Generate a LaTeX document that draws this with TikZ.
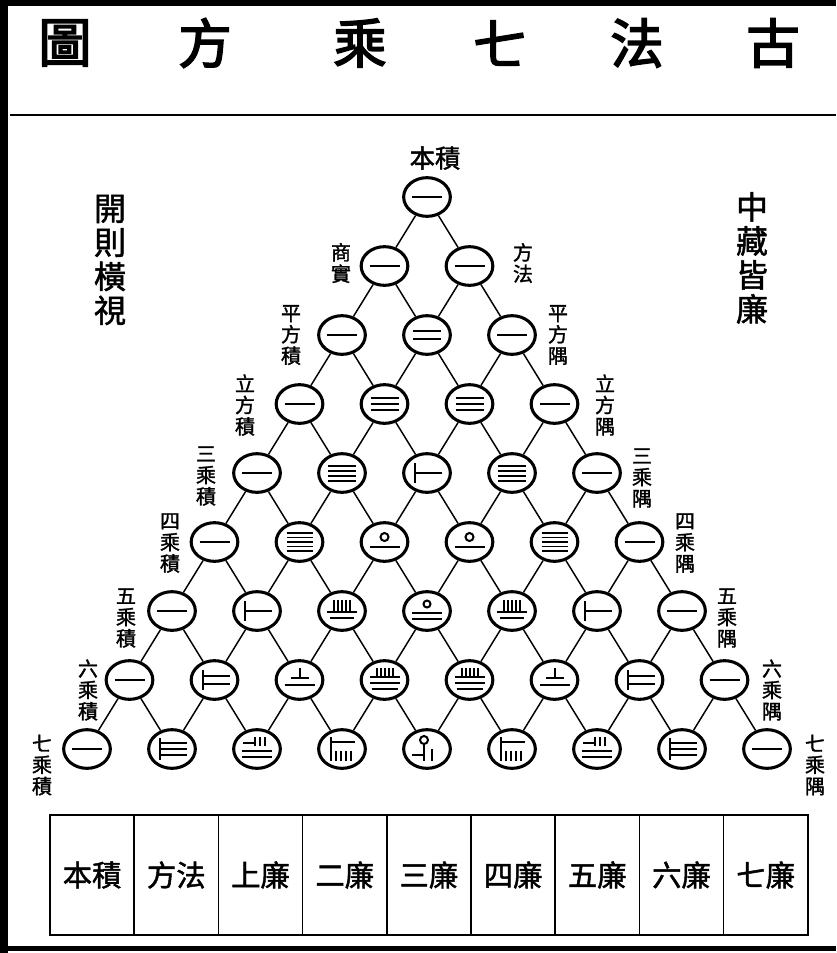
\documentclass[tikz,border=0pt]{standalone}
\usepackage{fontspec}
\newfontfamily\cjk{Noto Sans CJK TC}[FakeBold=1.5]
\newfontfamily\cjkb{Noto Sans CJK TC}[FakeBold=3]
\usetikzlibrary{shapes.geometric}
\tikzset{
  cell/.style={ellipse, draw, line width=2.3pt, minimum width=35pt, minimum height=29pt, inner sep=0pt},
  conn/.style={line width=1.1pt},
  rod/.style={line width=1.5pt},
  lab/.style={font=\cjk\fontsize{15}{16}\selectfont, align=center, inner sep=0pt},
  side/.style={font=\cjk\fontsize{24}{25.5}\selectfont, align=center, inner sep=0pt},
  ttl/.style={font=\cjkb\fontsize{40}{40}\selectfont, inner sep=0pt},
  tab/.style={font=\cjk\fontsize{22}{22}\selectfont, inner sep=0pt}
}
\expandafter\def\csname rodg-1\endcsname{\draw[rod] (-15,0)--(15,0);}
\expandafter\def\csname rodg-2\endcsname{\draw[rod] (-14,-4)--(14,-4) (-14,4)--(14,4);}
\expandafter\def\csname rodg-3\endcsname{\draw[rod] (-14,-6)--(14,-6) (-14,0)--(14,0) (-14,6)--(14,6);}
\expandafter\def\csname rodg-4\endcsname{\draw[rod] (-14,-7.5)--(14,-7.5) (-14,-2.5)--(14,-2.5) (-14,2.5)--(14,2.5) (-14,7.5)--(14,7.5);}
\expandafter\def\csname rodg-5\endcsname{\draw[rod,line width=1.2pt] (-13,-9)--(13,-9) (-13,-4.5)--(13,-4.5) (-13,0)--(13,0) (-13,4.5)--(13,4.5) (-13,9)--(13,9);}
\expandafter\def\csname rodg-6\endcsname{\draw[rod] (-12,-10)--(-12,10) (-12,0)--(15,0);}
\expandafter\def\csname rodg-7\endcsname{\draw[rod] (-12,-10)--(-12,10) (-12,-4)--(15,-4) (-12,4)--(15,4);}
\expandafter\def\csname rodg-8\endcsname{\draw[rod] (-12,-11)--(-12,11) (-12,-6)--(15,-6) (-12,0)--(15,0) (-12,6)--(15,6);}
\expandafter\def\csname rodg-10\endcsname{\draw[rod] (0,-5) circle[radius=4]; \draw[rod] (-15,5)--(15,5);}
\expandafter\def\csname rodg-15\endcsname{\draw[rod] (-8,-11)--(-8,0) (-4,-11)--(-4,0) (0,-11)--(0,0) (4,-11)--(4,0) (8,-11)--(8,0) (-15,1)--(15,1) (-12,7)--(12,7);}
\expandafter\def\csname rodg-20\endcsname{\draw[rod] (0,-7) circle[radius=3.5]; \draw[rod] (-15,2)--(15,2) (-15,8)--(15,8);}
\expandafter\def\csname rodg-21\endcsname{\draw[rod] (0,-12)--(0,-2) (-9,-2)--(9,-2) (-15,5)--(15,5);}
\expandafter\def\csname rodg-35\endcsname{\draw[rod] (-8,-12)--(-8,-4) (-4,-12)--(-4,-4) (0,-12)--(0,-4) (4,-12)--(4,-4) (8,-12)--(8,-4) (-15,-3)--(15,-3) (-15,3)--(15,3) (-13,9)--(13,9);}
\expandafter\def\csname rodg-28\endcsname{\draw[rod] (-14,-6)--(-2,-6) (-2,-12)--(-2,-3) (3,-12)--(3,-3) (8,-12)--(8,-3) (-15,2)--(15,2) (-15,8)--(15,8);}
\expandafter\def\csname rodg-56\endcsname{\draw[rod] (-11,-12)--(-11,12) (-11,-7)--(13,-7) (-6,2)--(-6,12) (-1,2)--(-1,12) (4,2)--(4,12) (9,2)--(9,12);}
\expandafter\def\csname rodg-70\endcsname{\draw[rod] (-3,-9) circle[radius=4]; \draw[rod] (-3,-5)--(-3,12) (-15,6)--(-3,6) (5,0)--(5,12);}
\newcommand\rodat[2]{\begin{scope}[shift={(#1)}]\csname rodg-#2\endcsname\end{scope}}
\begin{document}
\begin{tikzpicture}[x=0.75pt,y=-0.75pt]
\useasboundingbox (0,0) rectangle (836,953);
\fill[white] (0,0) rectangle (836,953);
% frame
\fill[black] (0,0) rectangle (836,6);
\fill[black] (0,0) rectangle (8,953);
\fill[black] (0,946) rectangle (836,951);
\draw[line width=1.6pt] (10,115) -- (836,115);
% title
\node[ttl] (t1) at (65,43) {圖};
\node[ttl] (t2) at (205,43) {方};
\node[ttl] (t3) at (360,43) {乘};
\node[ttl] (t4) at (500,43) {七};
\node[ttl] (t5) at (637,43) {法};
\node[ttl] (t6) at (773,43) {古};
% side texts
\node[side] (sl) at (110,260) {開\\則\\橫\\視};
\node[side] (sr) at (752,258) {中\\藏\\皆\\廉};
% cells
\foreach \r in {0,...,8}{
  \foreach \k in {0,...,\r}{
    \node[cell] (n-\r-\k) at ({427+(\k-\r/2)*85},{197+\r*69}) {};
  }
}
% connectors
\foreach \r in {0,...,7}{
  \foreach \k in {0,...,\r}{
    \pgfmathtruncatemacro\rr{\r+1}
    \pgfmathtruncatemacro\kk{\k+1}
    \draw[conn] (n-\r-\k) -- (n-\rr-\k);
    \draw[conn] (n-\r-\k) -- (n-\rr-\kk);
  }
}
% numerals
\foreach \r/\vals in {0/{1},1/{1,1},2/{1,2,1},3/{1,3,3,1},4/{1,4,6,4,1},5/{1,5,10,10,5,1},6/{1,6,15,20,15,6,1},7/{1,7,21,35,35,21,7,1},8/{1,8,28,56,70,56,28,8,1}}{
  \foreach \v [count=\c from 0] in \vals {
    \rodat{n-\r-\c}{\v}
  }
}
% labels
\node[font=\cjk\fontsize{19}{19}\selectfont, inner sep=0pt] (l0) at (435,158) {本積};
\node[lab] (la1) at (341,263) {商\\實};
\node[lab] (lb1) at (523,263) {方\\法};
\node[lab] (la2) at (291,335) {平\\方\\積};
\node[lab] (lb2) at (558,335) {平\\方\\隅};
\node[lab] (la3) at (245,405) {立\\方\\積};
\node[lab] (lb3) at (605,405) {立\\方\\隅};
\node[lab] (la4) at (206,476) {三\\乘\\積};
\node[lab] (lb4) at (642,478) {三\\乘\\隅};
\node[lab] (la5) at (170,543) {四\\乘\\積};
\node[lab] (lb5) at (685,543) {四\\乘\\隅};
\node[lab] (la6) at (126,618) {五\\乘\\積};
\node[lab] (lb6) at (727,618) {五\\乘\\隅};
\node[lab] (la7) at (88,690) {六\\乘\\積};
\node[lab] (lb7) at (772,690) {六\\乘\\隅};
\node[lab] (la8) at (42,765) {七\\乘\\積};
\node[lab] (lb8) at (815,765) {七\\乘\\隅};
% table
\draw[line width=1.6pt] (50,815) rectangle (808,935);
\foreach \i in {1,...,8}{
  \draw[line width=1.2pt] ({50+\i*84.2},815) -- ({50+\i*84.2},935);
}
\foreach \i/\t in {0/本積,1/方法,2/上廉,3/二廉,4/三廉,5/四廉,6/五廉,7/六廉,8/七廉}{
  \node[tab] (tb\i) at ({50+(\i+0.5)*84.2},875) {\t};
}
\end{tikzpicture}
\end{document}
